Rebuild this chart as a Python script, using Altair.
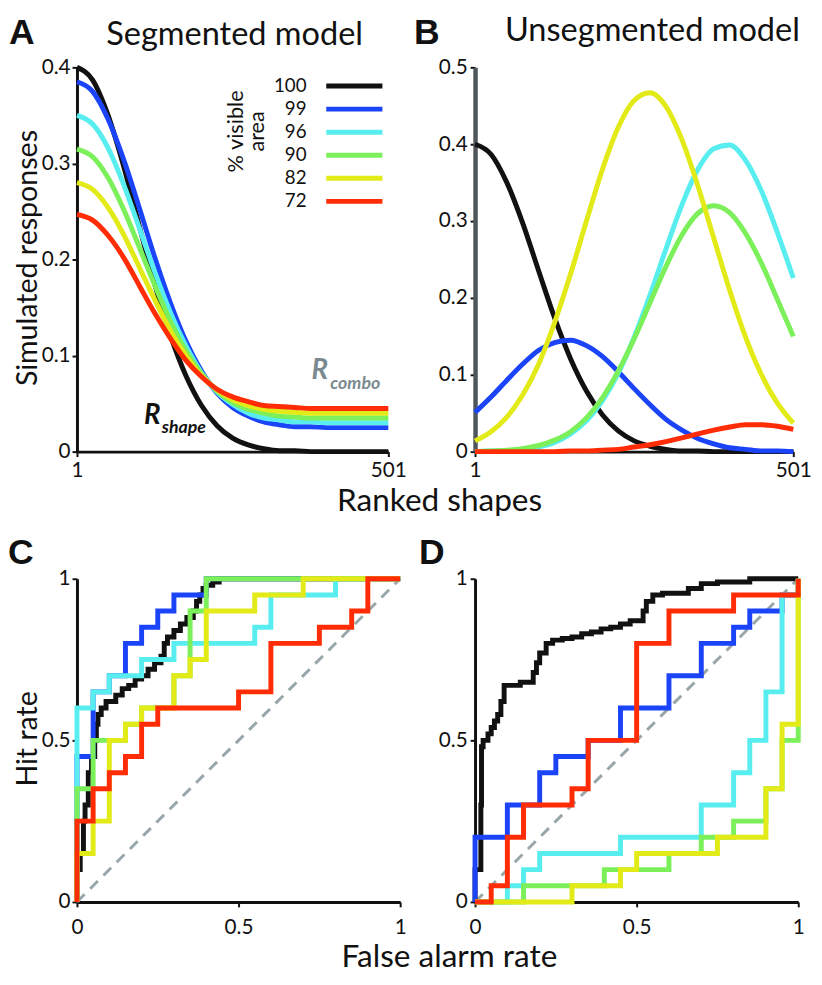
import altair as alt
import pandas as pd

# ---------------- data ----------------
SERIES = ["100", "99", "96", "90", "82", "72"]
COLORS = ["#111111", "#1b44f8", "#58eef0", "#7bf05a", "#e2ea17", "#ff2c05"]

RANKS = list(range(1, 502, 25))

# Panel A: segmented model responses
seg_100 = [0.400, 0.387, 0.350, 0.297, 0.235, 0.174, 0.121, 0.079, 0.048, 0.027, 0.014,
           0.007, 0.003, 0.001, 0.001, 0.000, 0.000, 0.000, 0.000, 0.000, 0.000]
seg_99 = [0.385, 0.375, 0.346, 0.304, 0.254, 0.202, 0.155, 0.115, 0.084, 0.061, 0.046,
          0.037, 0.031, 0.028, 0.026, 0.026, 0.025, 0.025, 0.025, 0.025, 0.025]
seg_96 = [0.350, 0.341, 0.316, 0.278, 0.233, 0.187, 0.145, 0.110, 0.082, 0.062, 0.049,
          0.040, 0.035, 0.033, 0.031, 0.031, 0.030, 0.030, 0.030, 0.030, 0.030]
seg_90 = [0.315, 0.307, 0.285, 0.252, 0.213, 0.173, 0.136, 0.105, 0.081, 0.063, 0.051,
          0.044, 0.040, 0.037, 0.036, 0.035, 0.035, 0.035, 0.035, 0.035, 0.035]
seg_82 = [0.280, 0.273, 0.254, 0.226, 0.192, 0.158, 0.126, 0.100, 0.079, 0.064, 0.054,
          0.048, 0.044, 0.042, 0.041, 0.040, 0.040, 0.040, 0.040, 0.040, 0.040]
seg_72 = [0.247, 0.241, 0.225, 0.202, 0.173, 0.144, 0.118, 0.095, 0.078, 0.065, 0.057,
          0.052, 0.048, 0.047, 0.046, 0.045, 0.045, 0.045, 0.045, 0.045, 0.045]

# Panel B: unsegmented model responses
unseg_100 = [0.400, 0.387, 0.350, 0.297, 0.235, 0.174, 0.121, 0.079, 0.048, 0.027, 0.014,
             0.007, 0.003, 0.001, 0.001, 0.000, 0.000, 0.000, 0.000, 0.000, 0.000]
unseg_99 = [0.051, 0.071, 0.093, 0.114, 0.132, 0.142, 0.145, 0.138, 0.124, 0.104, 0.082,
            0.061, 0.042, 0.028, 0.017, 0.010, 0.005, 0.003, 0.001, 0.001, 0.000]
unseg_96 = [0.000, 0.001, 0.001, 0.003, 0.006, 0.012, 0.023, 0.040, 0.066, 0.102, 0.149,
            0.204, 0.264, 0.321, 0.367, 0.394, 0.399, 0.379, 0.339, 0.285, 0.226]
unseg_90 = [0.000, 0.001, 0.002, 0.004, 0.008, 0.015, 0.026, 0.044, 0.070, 0.105, 0.147,
            0.194, 0.241, 0.282, 0.310, 0.320, 0.311, 0.284, 0.245, 0.198, 0.150]
unseg_82 = [0.014, 0.026, 0.045, 0.074, 0.114, 0.168, 0.231, 0.300, 0.367, 0.422, 0.457,
            0.467, 0.449, 0.406, 0.346, 0.278, 0.210, 0.149, 0.100, 0.063, 0.037]
unseg_72 = [0.000, 0.000, 0.000, 0.000, 0.000, 0.000, 0.001, 0.001, 0.002, 0.003, 0.006,
            0.009, 0.013, 0.018, 0.023, 0.028, 0.032, 0.035, 0.035, 0.033, 0.029]

# Panel C: ROC (false alarm rate, hit rate), segmented model
roc_seg_100 = [(0, 0), (0.01, 0.1), (0.02, 0.15), (0.025, 0.25), (0.035, 0.3), (0.045, 0.4),
               (0.055, 0.45), (0.06, 0.5), (0.065, 0.55), (0.075, 0.58), (0.09, 0.6),
               (0.12, 0.62), (0.14, 0.64), (0.16, 0.66), (0.18, 0.67), (0.2, 0.69),
               (0.22, 0.7), (0.24, 0.72), (0.26, 0.74), (0.27, 0.76), (0.28, 0.8),
               (0.3, 0.82), (0.32, 0.84), (0.34, 0.86), (0.36, 0.88), (0.37, 0.9),
               (0.38, 0.93), (0.39, 0.95), (0.4, 0.97), (0.42, 0.98), (0.44, 0.99),
               (0.48, 1.0), (1.0, 1.0)]
roc_seg_99 = [(0, 0), (0.05, 0.45), (0.1, 0.65), (0.15, 0.7), (0.2, 0.8), (0.25, 0.85),
              (0.3, 0.9), (0.4, 0.95), (1.0, 1.0)]
roc_seg_96 = [(0, 0), (0.05, 0.6), (0.1, 0.65), (0.2, 0.7), (0.3, 0.75), (0.55, 0.8),
              (0.6, 0.85), (0.8, 0.95), (1.0, 1.0)]
roc_seg_90 = [(0, 0), (0.05, 0.35), (0.1, 0.5), (0.15, 0.5), (0.2, 0.55), (0.25, 0.6),
              (0.3, 0.6), (0.35, 0.7), (0.4, 0.9), (1.0, 1.0)]
roc_seg_82 = [(0, 0), (0.05, 0.15), (0.1, 0.25), (0.15, 0.5), (0.2, 0.55), (0.3, 0.6),
              (0.35, 0.7), (0.4, 0.75), (0.55, 0.9), (0.7, 0.95), (0.9, 1.0), (1.0, 1.0)]
roc_seg_72 = [(0, 0), (0.05, 0.25), (0.1, 0.35), (0.15, 0.4), (0.2, 0.45), (0.25, 0.55),
              (0.5, 0.6), (0.6, 0.65), (0.75, 0.8), (0.85, 0.85), (0.9, 0.9), (1.0, 1.0)]

# Panel D: ROC, unsegmented model
roc_uns_100 = [(0, 0), (0.018, 0.1), (0.02, 0.3), (0.025, 0.48), (0.04, 0.5), (0.05, 0.52),
               (0.06, 0.54), (0.07, 0.56), (0.08, 0.58), (0.09, 0.62), (0.1, 0.67),
               (0.14, 0.67), (0.18, 0.68), (0.19, 0.71), (0.2, 0.74), (0.22, 0.77),
               (0.24, 0.8), (0.27, 0.81), (0.3, 0.815), (0.33, 0.82), (0.36, 0.83),
               (0.39, 0.835), (0.42, 0.845), (0.45, 0.85), (0.48, 0.86), (0.52, 0.87),
               (0.53, 0.9), (0.55, 0.93), (0.58, 0.95), (0.66, 0.955), (0.7, 0.97),
               (0.75, 0.985), (0.85, 0.99), (0.86, 1.0), (1.0, 1.0)]
roc_uns_99 = [(0, 0), (0.1, 0.2), (0.2, 0.3), (0.25, 0.4), (0.35, 0.45), (0.45, 0.5),
              (0.6, 0.6), (0.7, 0.7), (0.8, 0.8), (0.85, 0.85), (0.95, 0.9), (1.0, 0.95),
              (1.0, 1.0)]
roc_uns_96 = [(0, 0), (0.1, 0), (0.15, 0.05), (0.2, 0.1), (0.45, 0.15), (0.7, 0.2),
              (0.8, 0.3), (0.85, 0.4), (0.9, 0.5), (0.95, 0.65), (1.0, 0.95), (1.0, 1.0)]
roc_uns_90 = [(0, 0), (0.15, 0), (0.4, 0.05), (0.6, 0.1), (0.7, 0.15), (0.8, 0.2),
              (0.9, 0.25), (0.95, 0.35), (1.0, 0.5), (1.0, 1.0)]
roc_uns_82 = [(0, 0), (0.3, 0), (0.45, 0.05), (0.5, 0.1), (0.75, 0.15), (0.9, 0.2),
              (0.95, 0.35), (1.0, 0.55), (1.0, 1.0)]
roc_uns_72 = [(0, 0), (0.05, 0), (0.1, 0.05), (0.15, 0.2), (0.3, 0.3), (0.35, 0.35),
              (0.5, 0.5), (0.6, 0.8), (0.8, 0.9), (1.0, 0.95), (1.0, 1.0)]

DIAG_FPR = [0, 1]
DIAG_HIT = [0, 1]

RANK_TICKS = [1, 501]
SEG_TICKS = [0, 0.1, 0.2, 0.3, 0.4]
UNSEG_TICKS = [0, 0.1, 0.2, 0.3, 0.4, 0.5]
ROC_TICKS = [0, 0.5, 1]

# ---------------- helpers ----------------
FONT = "Lato"
INK = "#111111"
TITLE_SIZE = 33
XTITLE_SIZE = 32


def curve_df(lists):
    rows = []
    for name, vals in zip(SERIES, lists):
        for i, (r, v) in enumerate(zip(RANKS, vals)):
            rows.append({"area": name, "rank": r, "resp": v, "i": i})
    return pd.DataFrame(rows)


def roc_df(lists):
    rows = []
    for name, pts in zip(SERIES, lists):
        for i, (f, h) in enumerate(pts):
            rows.append({"area": name, "fpr": f, "hit": h, "i": i})
    return pd.DataFrame(rows)


def label(text, x, y, size, font=FONT, weight="normal", style="normal", color=INK,
          align="center", baseline="alphabetic", angle=0):
    return alt.Chart(pd.DataFrame({"t": [text]})).mark_text(
        font=font, fontSize=size, fontWeight=weight, fontStyle=style, color=color,
        align=align, baseline=baseline, angle=angle
    ).encode(x=alt.value(x), y=alt.value(y), text="t:N")


color_enc = alt.Color("area:N", scale=alt.Scale(domain=SERIES, range=COLORS), legend=None)


def ytitle_axis(values, title, center):
    return alt.Axis(values=values, format="~g", title=title, titleX=-41, titleY=center,
                    titleAngle=270, titleAlign="center", titleBaseline="alphabetic",
                    titleFontSize=29, labelPadding=2)


# ---------------- panel A ----------------
a_curves = alt.Chart(curve_df([seg_100, seg_99, seg_96, seg_90, seg_82, seg_72])).mark_line(
    strokeWidth=5, interpolate="monotone"
).encode(
    x=alt.X("rank:Q", scale=alt.Scale(domain=[1, 501], nice=False, zero=False),
            axis=alt.Axis(values=RANK_TICKS, format="d", title=None)),
    y=alt.Y("resp:Q", scale=alt.Scale(domain=[0, 0.4], nice=False),
            axis=ytitle_axis(SEG_TICKS, "Simulated responses", 193)),
    color=color_enc,
    order=alt.Order("i:Q"),
)

leg_df = pd.DataFrame({"area": SERIES})
leg_y = alt.Y("area:N", sort=SERIES,
              scale=alt.Scale(type="point", domain=SERIES, range=[19, 136], padding=0),
              axis=None)
leg_rules = alt.Chart(leg_df).mark_rule(strokeWidth=5).encode(
    x=alt.value(253), x2=alt.value(310), y=leg_y, color=color_enc)
leg_text = alt.Chart(leg_df).mark_text(
    font=FONT, fontSize=19, color=INK, align="right", baseline="middle"
).encode(x=alt.value(233), y=leg_y, text="area:N")

panel_a = alt.layer(
    a_curves,
    leg_rules,
    leg_text,
    label("% visible", 168, 65, 22, angle=270),
    label("area", 190, 65, 22, angle=270),
    label("R", 238, 316, 28, weight="bold", style="italic", color="#7b8a90", align="left"),
    label("combo", 257, 326, 18, weight="bold", style="italic", color="#7b8a90", align="left"),
    label("R", 68, 362, 28, weight="bold", style="italic", align="left"),
    label("shape", 86, 371, 18, weight="bold", style="italic", align="left"),
    label("A", -69, -24, 36, font="Liberation Sans", weight="bold", align="left"),
    label("Segmented model", 160, -23, TITLE_SIZE),
    label("Ranked shapes", 368, 450, XTITLE_SIZE),
).resolve_scale(y="independent").properties(width=316, height=390)

# ---------------- panel B ----------------
b_curves = alt.Chart(curve_df([unseg_100, unseg_99, unseg_96, unseg_90, unseg_82, unseg_72])).mark_line(
    strokeWidth=5, interpolate="monotone"
).encode(
    x=alt.X("rank:Q", scale=alt.Scale(domain=[1, 501], nice=False, zero=False),
            axis=alt.Axis(values=RANK_TICKS, format="d", title=None)),
    y=alt.Y("resp:Q", scale=alt.Scale(domain=[0, 0.5], nice=False),
            axis=alt.Axis(values=UNSEG_TICKS, format="~g", title=None,
                          domainColor="#4e565b", domainWidth=4.5)),
    color=color_enc,
    order=alt.Order("i:Q"),
)

panel_b = alt.layer(
    b_curves,
    label("B", -62, -24, 36, font="Liberation Sans", weight="bold", align="left"),
    label("Unsegmented model", 180, -27, TITLE_SIZE),
).properties(width=323, height=390)


# ---------------- panels C, D ----------------
def roc_panel(lists, ytitle, extra):
    diag = alt.Chart(pd.DataFrame({"fpr": DIAG_FPR, "hit": DIAG_HIT})).mark_line(
        color="#98a6aa", strokeWidth=3, strokeDash=[11, 8]
    ).encode(x="fpr:Q", y="hit:Q")
    if ytitle:
        yaxis = ytitle_axis(ROC_TICKS, ytitle, 162)
    else:
        yaxis = alt.Axis(values=ROC_TICKS, format="~g", title=None)
    lines = alt.Chart(roc_df(lists)).mark_line(
        strokeWidth=5, interpolate="step-before"
    ).encode(
        x=alt.X("fpr:Q", scale=alt.Scale(domain=[0, 1], nice=False),
                axis=alt.Axis(values=ROC_TICKS, format="~g", title=None, labelPadding=10)),
        y=alt.Y("hit:Q", scale=alt.Scale(domain=[0, 1], nice=False), axis=yaxis),
        color=color_enc,
        order=alt.Order("i:Q"),
    )
    return alt.layer(diag, lines, *extra).properties(width=328, height=328)


panel_c = roc_panel(
    [roc_seg_100, roc_seg_99, roc_seg_96, roc_seg_90, roc_seg_82, roc_seg_72],
    "Hit rate",
    [label("C", -70, -15, 36, font="Liberation Sans", weight="bold", align="left"),
     label("False alarm rate", 378, 394, XTITLE_SIZE)],
)
panel_d = roc_panel(
    [roc_uns_100, roc_uns_99, roc_uns_96, roc_uns_90, roc_uns_82, roc_uns_72],
    None,
    [label("D", -57, -15, 36, font="Liberation Sans", weight="bold", align="left")],
)

chart = alt.concat(
    panel_a, panel_b, panel_c, panel_d,
    columns=2, spacing={"row": 129, "column": 76}, bounds="flush",
).properties(padding={"left": 0, "top": 0, "right": 2, "bottom": 2}).configure_view(
    stroke=None
).configure_axis(
    labelFont=FONT, labelFontSize=21, labelColor=INK, labelPadding=3, labelFlush=False,
    domainColor=INK, domainWidth=3, tickColor=INK, tickWidth=2, tickSize=5,
    grid=False, titleFont=FONT, titleFontSize=30, titleFontWeight="normal", titleColor=INK,
)

chart.save("out.html", embed_options={"renderer": "svg", "actions": False})
